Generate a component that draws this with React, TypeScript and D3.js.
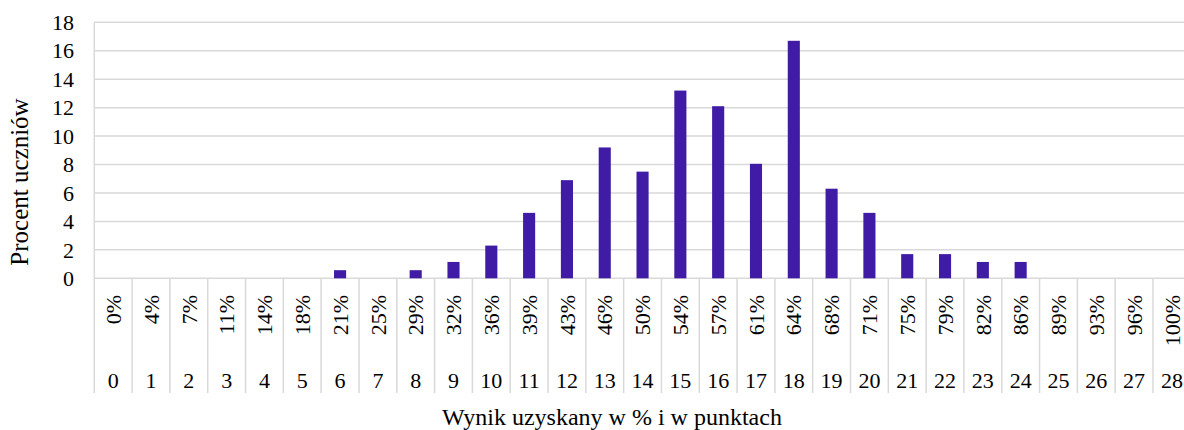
import { useEffect, useRef } from 'react';
import * as d3 from 'd3';

// points scored (0-28) and matching percent of max
const points = ['0', '1', '2', '3', '4', '5', '6', '7', '8', '9', '10', '11', '12', '13', '14', '15', '16', '17', '18', '19', '20', '21', '22', '23', '24', '25', '26', '27', '28'];
const percentLabels = ['0%', '4%', '7%', '11%', '14%', '18%', '21%', '25%', '29%', '32%', '36%', '39%', '43%', '46%', '50%', '54%', '57%', '61%', '64%', '68%', '71%', '75%', '79%', '82%', '86%', '89%', '93%', '96%', '100%'];
// percent of students per score
const studentShare = [0, 0, 0, 0, 0, 0, 0.57, 0, 0.57, 1.15, 2.3, 4.6, 6.9, 9.2, 7.5, 13.2, 12.1, 8.05, 16.7, 6.3, 4.6, 1.7, 1.7, 1.15, 1.15, 0, 0, 0, 0];
const yTicks = [0, 2, 4, 6, 8, 10, 12, 14, 16, 18];

const W = 1184;
const H = 430;
const FONT = '"Liberation Serif", "Times New Roman", serif';
const GRID = '#d9d9d9';
const BAR = '#3f1ba6';

export default function App() {
  const ref = useRef<SVGSVGElement>(null);

  useEffect(() => {
    if (!ref.current) return;
    const svg = d3.select(ref.current);
    svg.selectAll('*').remove();

    const left = 94.3;
    const right = 1190.8;
    const top = 22.3;
    const bottom = 278.3;
    const axisBottom = 393;

    const x = d3.scaleBand().domain(points).range([left, right]).padding(0);
    const y = d3.scaleLinear().domain([0, 18]).range([bottom, top]);

    // gridlines
    svg
      .append('g')
      .selectAll('line')
      .data(yTicks)
      .join('line')
      .attr('x1', left)
      .attr('x2', right)
      .attr('y1', d => y(d))
      .attr('y2', d => y(d))
      .attr('stroke', GRID)
      .attr('stroke-width', 1.5);

    // category separators
    const bounds = points.map(p => x(p) || 0).concat([right]);
    svg
      .append('g')
      .selectAll('line')
      .data(bounds)
      .join('line')
      .attr('x1', d => d)
      .attr('x2', d => d)
      .attr('y1', (_, i) => (i === 0 ? top : bottom))
      .attr('y2', axisBottom)
      .attr('stroke', GRID)
      .attr('stroke-width', 1.5);

    // bars
    const bw = x.bandwidth() * 0.32;
    svg
      .append('g')
      .selectAll('rect')
      .data(studentShare)
      .join('rect')
      .attr('x', (_, i) => (x(points[i]) || 0) + x.bandwidth() / 2 - bw / 2)
      .attr('y', d => y(d))
      .attr('width', bw)
      .attr('height', d => bottom - y(d))
      .attr('fill', BAR);

    // y tick labels
    svg
      .append('g')
      .selectAll('text')
      .data(yTicks)
      .join('text')
      .attr('x', 74)
      .attr('y', d => y(d))
      .attr('dy', '0.35em')
      .attr('text-anchor', 'end')
      .attr('font-family', FONT)
      .attr('font-size', 22)
      .attr('fill', '#000')
      .text(d => d);

    // percent labels (rotated)
    svg
      .append('g')
      .selectAll('text')
      .data(percentLabels)
      .join('text')
      .attr('transform', (_, i) => `translate(${(x(points[i]) || 0) + x.bandwidth() / 2},295) rotate(-90)`)
      .attr('dy', '0.35em')
      .attr('text-anchor', 'end')
      .attr('font-family', FONT)
      .attr('font-size', 22)
      .attr('fill', '#000')
      .text(d => d);

    // point labels
    svg
      .append('g')
      .selectAll('text')
      .data(points)
      .join('text')
      .attr('x', d => (x(d) || 0) + x.bandwidth() / 2)
      .attr('y', 380)
      .attr('dy', '0.35em')
      .attr('text-anchor', 'middle')
      .attr('font-family', FONT)
      .attr('font-size', 22)
      .attr('fill', '#000')
      .text(d => d);

    // axis titles
    svg
      .append('text')
      .attr('x', 612)
      .attr('y', 425)
      .attr('text-anchor', 'middle')
      .attr('font-family', FONT)
      .attr('font-size', 24)
      .attr('fill', '#000')
      .text('Wynik uzyskany w % i w punktach');

    svg
      .append('text')
      .attr('transform', 'translate(19,182) rotate(-90)')
      .attr('dy', '0.35em')
      .attr('text-anchor', 'middle')
      .attr('font-family', FONT)
      .attr('font-size', 25)
      .attr('fill', '#000')
      .text('Procent uczniów');
  }, []);

  return (
    <div style={{ position: 'absolute', left: 0, top: 0, width: W, height: H, background: '#fff' }}>
      <svg ref={ref} width={W} height={H} style={{ display: 'block' }} />
    </div>
  );
}
